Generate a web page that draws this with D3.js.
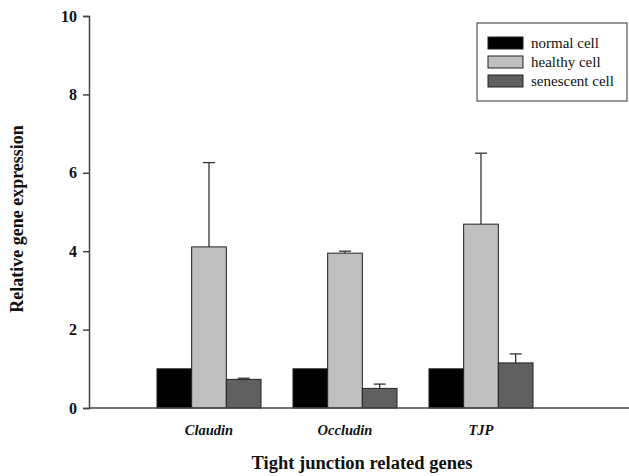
<!DOCTYPE html>
<html>
<head>
<meta charset="utf-8">
<script src="https://cdn.jsdelivr.net/npm/d3@7"></script>
<style>
  body { margin: 0; background: #fff; }
  text { font-family: "Liberation Serif", "DejaVu Serif", serif; fill: #111; }
</style>
</head>
<body>
<div id="chart"></div>
<script>
var width = 629;
var height = 476;

// data
var genes = ['Claudin', 'Occludin', 'TJP'];
var cellTypes = ['normal cell', 'healthy cell', 'senescent cell'];
var normalVals = [1.0, 1.0, 1.0];
var healthyVals = [4.11, 3.95, 4.69];
var healthyErr = [2.15, 0.05, 1.81];
var senescentVals = [0.73, 0.50, 1.15];
var senescentErr = [0.03, 0.11, 0.23];
var yTicks = [0, 2, 4, 6, 8, 10];

var colors = ['#000000', '#c0c0c0', '#606060'];

var series = [
    { name: cellTypes[0], values: normalVals, errs: null },
    { name: cellTypes[1], values: healthyVals, errs: healthyErr },
    { name: cellTypes[2], values: senescentVals, errs: senescentErr }
];

var svg = d3.select('#chart').append('svg')
    .attr('width', width)
    .attr('height', height);

var axisLeftX = 89;
var axisRightX = 629;

var yScale = d3.scaleLinear()
    .domain([0, 10])
    .range([408, 16]);

var xScale = d3.scaleBand()
    .domain(genes)
    .range([141, 549])
    .paddingInner(0.235)
    .paddingOuter(0.1175);

var xSub = d3.scaleBand()
    .domain(cellTypes)
    .range([0, xScale.bandwidth()]);

// bars
series.forEach(function (s, si) {
    var g = svg.append('g').attr('class', 'series');
    g.selectAll('rect')
        .data(s.values)
        .enter()
        .append('rect')
        .attr('x', (d, i) => xScale(genes[i]) + xSub(s.name))
        .attr('y', d => yScale(d))
        .attr('width', xSub.bandwidth())
        .attr('height', d => yScale(0) - yScale(d))
        .attr('fill', colors[si])
        .attr('stroke', '#222')
        .attr('stroke-width', 1);

    if (s.errs) {
        var eg = g.selectAll('g.err')
            .data(s.values)
            .enter()
            .append('g')
            .attr('class', 'err');
        eg.append('line')
            .attr('x1', (d, i) => xScale(genes[i]) + xSub(s.name) + xSub.bandwidth() / 2)
            .attr('x2', (d, i) => xScale(genes[i]) + xSub(s.name) + xSub.bandwidth() / 2)
            .attr('y1', d => yScale(d))
            .attr('y2', (d, i) => yScale(d + s.errs[i]))
            .attr('stroke', '#333')
            .attr('stroke-width', 1.3);
        eg.append('line')
            .attr('x1', (d, i) => xScale(genes[i]) + xSub(s.name) + xSub.bandwidth() / 2 - 6)
            .attr('x2', (d, i) => xScale(genes[i]) + xSub(s.name) + xSub.bandwidth() / 2 + 6)
            .attr('y1', (d, i) => yScale(d + s.errs[i]))
            .attr('y2', (d, i) => yScale(d + s.errs[i]))
            .attr('stroke', '#333')
            .attr('stroke-width', 1.3);
    }
});

// y axis
var yAxis_g = svg.append('g')
    .attr('transform', `translate(${axisLeftX}, 0)`)
    .call(d3.axisLeft(yScale).tickValues(yTicks).tickSize(6).tickPadding(6).tickFormat(d3.format('d')));
yAxis_g.select('.domain').attr('stroke', '#444').attr('stroke-width', 1.5);
yAxis_g.selectAll('.tick line').attr('stroke', '#444').attr('stroke-width', 1.5);
yAxis_g.selectAll('.tick text')
    .style('font-family', '"Liberation Serif", serif')
    .style('font-weight', 'bold')
    .style('font-size', '16px')
    .attr('fill', '#111');

// x axis line
svg.append('line')
    .attr('x1', axisLeftX)
    .attr('x2', axisRightX)
    .attr('y1', yScale(0))
    .attr('y2', yScale(0))
    .attr('stroke', '#444')
    .attr('stroke-width', 1.5);

// category labels
svg.selectAll('text.cat')
    .data(genes)
    .enter()
    .append('text')
    .attr('class', 'cat')
    .attr('x', d => xScale(d) + xScale.bandwidth() / 2)
    .attr('y', 435)
    .attr('text-anchor', 'middle')
    .style('font-style', 'italic')
    .style('font-weight', 'bold')
    .style('font-size', '14.5px')
    .text(d => d);

// axis titles
svg.append('text')
    .attr('x', 362)
    .attr('y', 469)
    .attr('text-anchor', 'middle')
    .style('font-weight', 'bold')
    .style('font-size', '18.5px')
    .text('Tight junction related genes');

svg.append('text')
    .attr('transform', 'translate(23, 219) rotate(-90)')
    .attr('text-anchor', 'middle')
    .style('font-weight', 'bold')
    .style('font-size', '18px')
    .text('Relative gene expression');

// legend
var legend = svg.append('g').attr('transform', 'translate(477, 23)');
legend.append('rect')
    .attr('width', 150)
    .attr('height', 78)
    .attr('fill', '#fff')
    .attr('stroke', '#333')
    .attr('stroke-width', 1);

var items = legend.selectAll('g.item')
    .data(series)
    .enter()
    .append('g')
    .attr('class', 'item')
    .attr('transform', (d, i) => `translate(11, ${14 + i * 19})`);
items.append('rect')
    .attr('width', 35)
    .attr('height', 12)
    .attr('fill', (d, i) => colors[i])
    .attr('stroke', '#222');
items.append('text')
    .attr('x', 43)
    .attr('y', 11)
    .style('font-size', '15px')
    .text(d => d.name);
</script>
</body>
</html>
